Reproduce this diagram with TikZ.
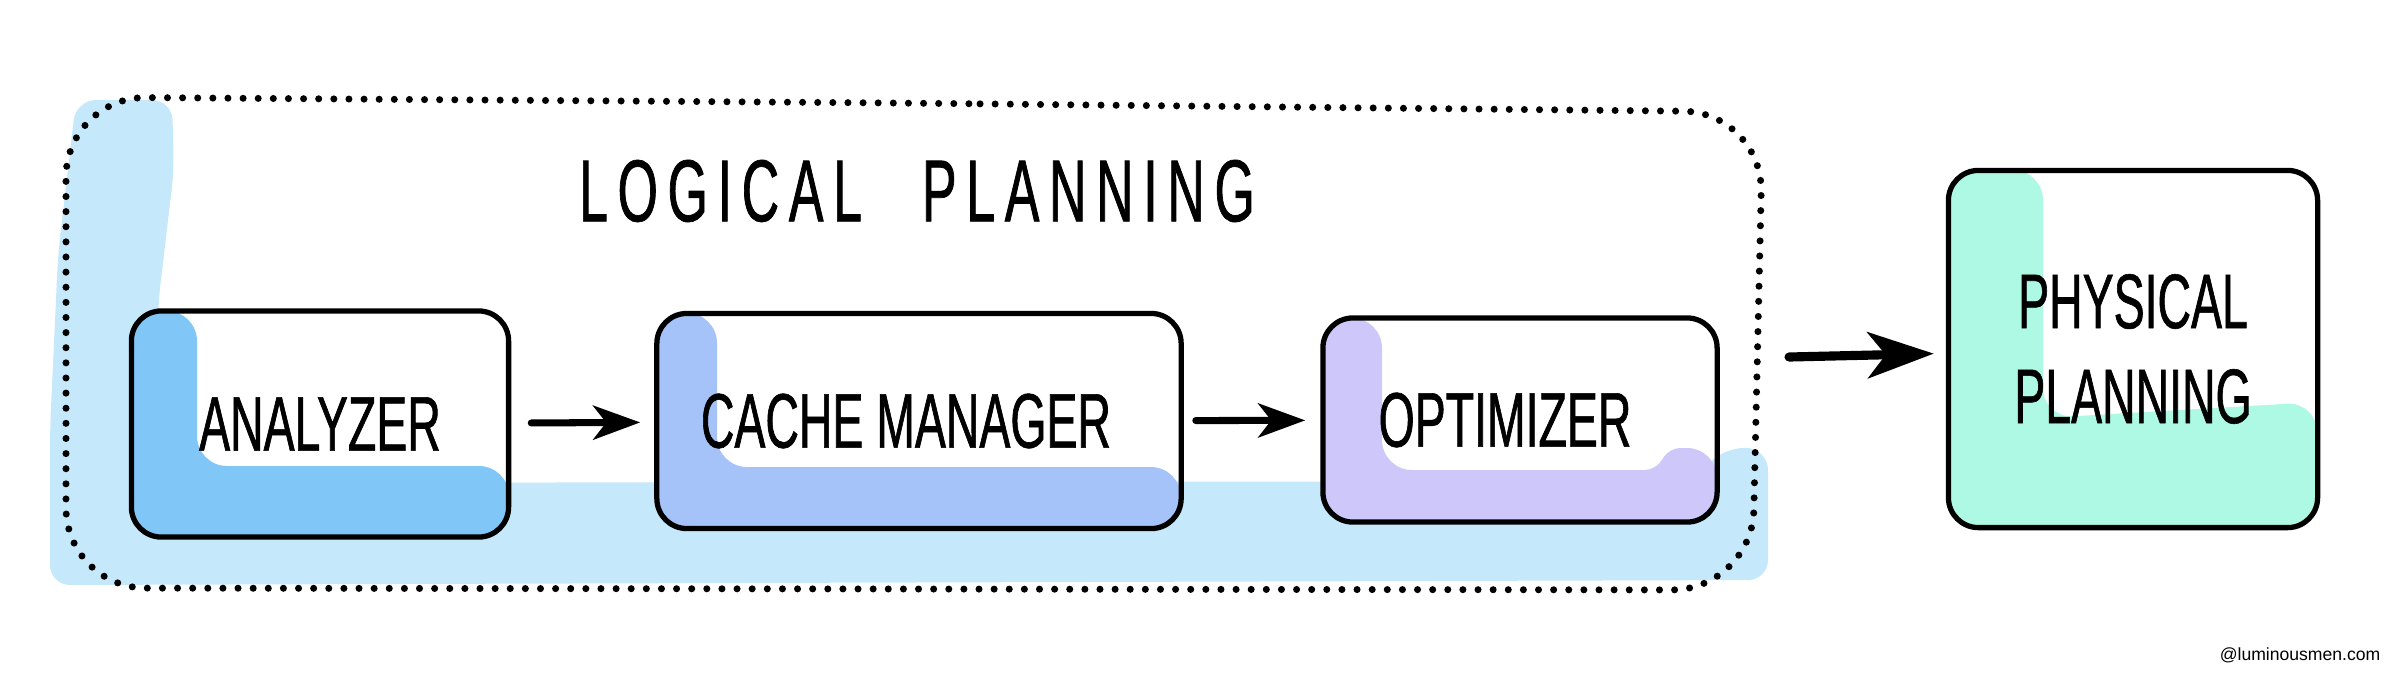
\documentclass[tikz,border=0pt]{standalone}
\usepackage{fontspec}
\usepackage{tikz}
\usetikzlibrary{arrows.meta}
\newfontfamily\handfont[FakeStretch=0.6,FakeBold=0.8]{Liberation Sans}
\newfontfamily\titlefont[FakeStretch=0.59,FakeBold=0.8,LetterSpace=11]{Liberation Sans}
\newfontfamily\notefont{Liberation Sans}
\definecolor{bgblue}{HTML}{C5E9FB}
\definecolor{anafill}{HTML}{80C7F7}
\definecolor{cachefill}{HTML}{A5C3F9}
\definecolor{optfill}{HTML}{CDC7FA}
\definecolor{physfill}{HTML}{ADF9E4}

\begin{document}
\begin{tikzpicture}[x=0.01cm,y=-0.01cm,
    stage/.style={draw,line width=1.5pt,rounded corners=0.3cm,inner sep=0pt,align=center,
      font=\handfont\fontsize{22}{27}\selectfont},
    flow/.style={line width=2pt,line cap=round,-{Stealth[length=4.7mm,width=3.4mm,inset=1.3mm]}},
    bigflow/.style={line width=2.6pt,line cap=round,-{Stealth[length=6.6mm,width=4.6mm,inset=1.8mm]}},
    marker/.style={rounded corners=0.3cm}]
    \useasboundingbox (0,0) rectangle (2394,687);
    \fill[bgblue,rounded corners=0.2cm] (50,430) -- (58,255) -- (76,100) -- (172,100) -- (174,170) -- (158,305) -- (158,483)
        -- (1690,481) -- (1728,446) -- (1768,450) -- (1768,580) -- (50,585) -- cycle;
    \draw[line width=2pt,line cap=round,dash pattern=on 0pt off 4.3pt,rounded corners=0.8cm]
        (900,103) -- (1763,112) -- (1752,590) -- (66,588) -- (66,97) -- cycle;
    \node[font=\titlefont\fontsize{25}{30}\selectfont] (title) at (917,191) {LOGICAL\hspace{0.6cm}PLANNING};
    \fill[anafill,marker] (134,470) -- (134,311) -- (197,311) -- (197,466) -- (509,466) -- (509,537) -- (134,537) -- cycle;
    \fill[cachefill,marker] (657,470) -- (657,313) -- (717,313) -- (717,467) -- (1181,467) -- (1181,528) -- (657,528) -- cycle;
    \fill[optfill,rounded corners=0.3cm] (1323,470) -- (1323,318) -- (1382,318) -- (1382,470)
        [rounded corners=0.1cm] -- (1655,470) -- (1670,448) [rounded corners=0.3cm] -- (1717,448) -- (1717,522) -- (1323,522) -- cycle;
    \fill[physfill,marker] (1948,400) -- (1948,170) -- (2043,170) -- (2043,418) -- (2317,402) -- (2317,527) -- (1948,527) -- cycle;
    \node[stage,minimum width=3.77cm,minimum height=2.26cm] (ana) at (320,424) {ANALYZER};
    \node[stage,minimum width=5.24cm,minimum height=2.15cm] (cache) at (919,421) {CACHE MANAGER\hspace*{0.26cm}};
    \node[stage,minimum width=3.94cm,minimum height=2.04cm] (opt) at (1520,420) {OPTIMIZER\hspace*{0.3cm}};
    \node[stage,minimum width=3.69cm,minimum height=3.57cm] (phys) at (2133,349) {PHYSICAL\\PLANNING};
    \coordinate (exit) at (1789,357);
    \draw[flow,shorten <=0.2cm,shorten >=0.14cm] (ana) -- (cache);
    \draw[flow,shorten <=0.12cm,shorten >=0.15cm] (cache) -- (opt);
    \draw[bigflow,shorten >=0.12cm] (exit) -- (phys);
    \node[font=\notefont\fontsize{5}{6}\selectfont] (credit) at (2300,655) {@luminousmen.com};
\end{tikzpicture}
\end{document}
